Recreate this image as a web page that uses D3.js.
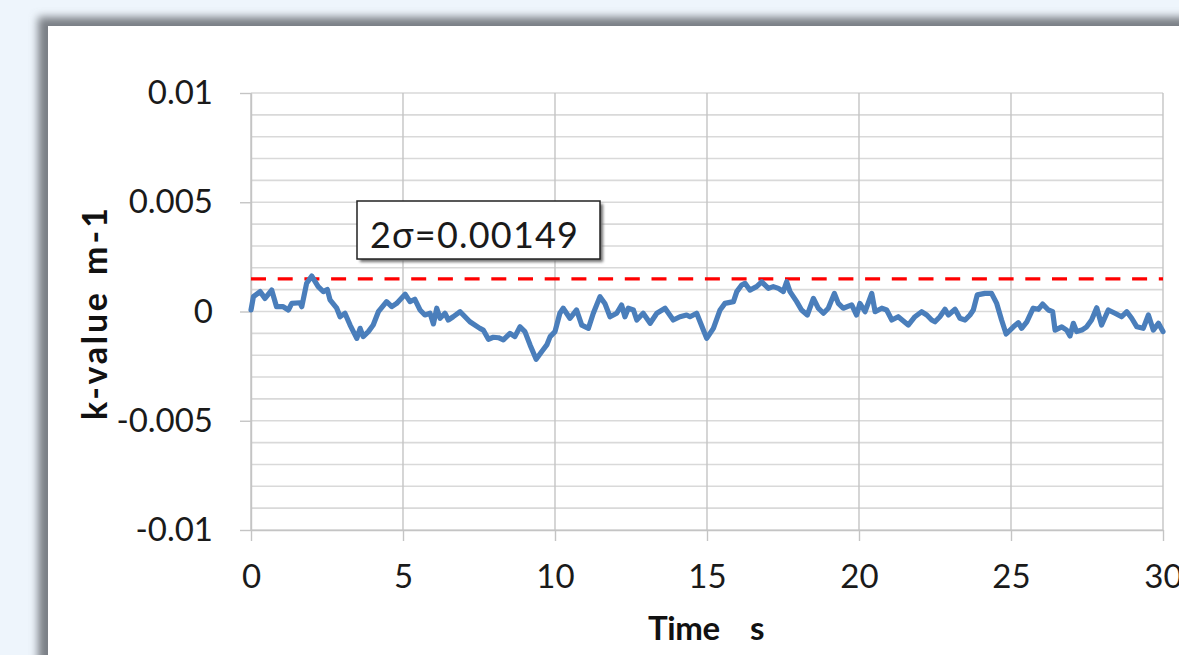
<!DOCTYPE html>
<html>
<head>
<meta charset="utf-8">
<script src="https://cdn.jsdelivr.net/npm/d3@7"></script>
<style>
  html, body { margin: 0; padding: 0; background: #eef5fc; overflow: hidden; }
  svg { display: block; }
  text { font-family: Lato, "Open Sans", "Liberation Sans", sans-serif; }
</style>
</head>
<body>
<svg id="chart" width="1179" height="655"></svg>
<script>
// Curvature signal over the 30 s record (time in s, k in 1/m)
const timeS = [
  0, 0.08, 0.30, 0.46, 0.68, 0.84, 1.06, 1.23, 1.34, 1.61,
  1.67, 1.83, 2.00, 2.21, 2.38, 2.51, 2.60, 2.82, 2.93, 3.09,
  3.26, 3.48, 3.59, 3.69, 3.86, 4.02, 4.19, 4.46, 4.63, 4.79,
  5.07, 5.23, 5.39, 5.56, 5.72, 5.89, 6.00, 6.11, 6.22, 6.38,
  6.49, 6.65, 6.88, 7.04, 7.20, 7.53,
  7.64, 7.81, 7.97, 8.14, 8.30, 8.52, 8.68, 8.85, 9.01, 9.18,
  9.38, 9.56, 9.73, 9.84, 10.00, 10.16, 10.27, 10.49, 10.71, 10.88,
  11.10, 11.26, 11.48, 11.64, 11.81, 12.03, 12.19, 12.30, 12.41, 12.58,
  12.69, 12.90, 13.13, 13.35, 13.62, 13.89, 14.11, 14.33, 14.44, 14.66,
  14.88, 14.99,
  15.21, 15.43, 15.59, 15.87, 15.98, 16.14, 16.25, 16.41, 16.63, 16.80,
  17.02, 17.18, 17.35, 17.51, 17.62, 17.73, 17.95, 18.11, 18.30, 18.50,
  18.66, 18.83, 18.99, 19.19, 19.32, 19.48, 19.76, 19.92, 20.03, 20.20,
  20.42, 20.53, 20.75, 20.91, 21.08, 21.29, 21.62, 21.84, 22.06, 22.23,
  22.39,
  22.50, 22.66, 22.83, 22.94, 23.16, 23.32, 23.49, 23.65, 23.76, 23.89,
  24.14, 24.36, 24.53, 24.69, 24.84, 25.08, 25.24, 25.35, 25.52, 25.73,
  25.90, 26.04, 26.23, 26.37, 26.45, 26.67, 26.83, 26.94, 27.05, 27.16,
  27.33, 27.49, 27.65, 27.82, 27.98, 28.20, 28.42, 28.64, 28.81, 28.97,
  29.14, 29.35, 29.52, 29.68, 29.85, 30.00
];

const kValue = [
  0.00007, 0.00068, 0.00091, 0.00060, 0.00098, 0.00022, 0.00022, 0.00007, 0.00037, 0.00040,
  0.00022, 0.00129, 0.00162, 0.00114, 0.00091, 0.00101, 0.00053, 0.00015, -0.00024, -0.00008,
  -0.00062, -0.00123, -0.00077, -0.00115, -0.00092, -0.00062, -0.00001, 0.00045, 0.00022, 0.00037,
  0.00079, 0.00045, 0.00056, 0.00007, -0.00016, -0.00008, -0.00057, 0.00015, -0.00031, -0.00008,
  -0.00039, -0.00024, -0.00001, -0.00024, -0.00047, -0.00077,
  -0.00085, -0.00127, -0.00118, -0.00120, -0.00130, -0.00100, -0.00115, -0.00070, -0.00092, -0.00153,
  -0.00219, -0.00184, -0.00153, -0.00115, -0.00092, -0.00008, 0.00015, -0.00031, 0.00007, -0.00062,
  -0.00077, -0.00008, 0.00068, 0.00037, -0.00024, -0.00008, 0.00030, -0.00024, 0.00015, 0.00007,
  -0.00039, -0.00008, -0.00054, -0.00008, 0.00015, -0.00039, -0.00024, -0.00016, -0.00024, -0.00008,
  -0.00085, -0.00123,
  -0.00077, 0.00007, 0.00037, 0.00045, 0.00091, 0.00121, 0.00129, 0.00098, 0.00114, 0.00136,
  0.00106, 0.00114, 0.00106, 0.00091, 0.00136, 0.00091, 0.00045, 0.00007, -0.00016, 0.00060,
  0.00015, -0.00008, 0.00015, 0.00083, 0.00037, 0.00015, 0.00030, -0.00016, 0.00037, -0.00001,
  0.00083, -0.00001, 0.00015, 0.00007, -0.00039, -0.00024, -0.00062, -0.00024, -0.00001, -0.00016,
  -0.00039,
  -0.00047, -0.00024, 0.00010, -0.00016, 0.00010, -0.00031, -0.00039, -0.00016, 0.00007, 0.00076,
  0.00083, 0.00083, 0.00037, -0.00039, -0.00103, -0.00070, -0.00051, -0.00077, -0.00047, 0.00015,
  0.00010, 0.00034, 0.00007, -0.00001, -0.00085, -0.00070, -0.00085, -0.00112, -0.00054, -0.00092,
  -0.00085, -0.00070, -0.00039, 0.00017, -0.00062, 0.00007, -0.00008, -0.00024, -0.00001, -0.00031,
  -0.00070, -0.00077, -0.00016, -0.00085, -0.00054, -0.00092
];

const xTicks = [0, 5, 10, 15, 20, 25, 30];
const yTicks = [0.01, 0.005, 0, -0.005, -0.01];
const yTickLabels = ["0.01", "0.005", "0", "-0.005", "-0.01"];
const yGridStep = 0.001;
const sigma2 = 0.00149;          // 2-sigma threshold
const xTitleParts = ["Time", "s"];
const yTitleParts = ["k-value", "m-1"];

const svg = d3.select("#chart");
const W = 1179, H = 655;

// ---- page background and card with a soft shadow on its top/left edge
const defs = svg.append("defs");
const cardBlur = defs.append("filter").attr("id", "cardShadow")
  .attr("x", "-10%").attr("y", "-10%").attr("width", "120%").attr("height", "120%");
cardBlur.append("feGaussianBlur").attr("stdDeviation", 4);

const boxShadow = defs.append("filter").attr("id", "boxShadow")
  .attr("x", "-20%").attr("y", "-30%").attr("width", "140%").attr("height", "160%");
boxShadow.append("feGaussianBlur").attr("stdDeviation", 1.5);

svg.append("rect").attr("width", W).attr("height", H).attr("fill", "#eef5fc");
svg.append("rect").attr("x", 38).attr("y", 17).attr("width", W + 40).attr("height", H + 40)
  .attr("fill", "#7a7f85").attr("filter", "url(#cardShadow)");
svg.append("rect").attr("x", 48).attr("y", 26).attr("width", W).attr("height", H)
  .attr("fill", "#ffffff");

// ---- scales
const x = d3.scaleLinear().domain([0, 30]).range([251, 1163]);
const y = d3.scaleLinear().domain([-0.01, 0.01]).range([530, 93]);

// ---- horizontal grid every 0.001
const hGrid = d3.range(y.domain()[0], y.domain()[1] + yGridStep / 2, yGridStep);
svg.append("g").selectAll("line").data(hGrid).join("line")
  .attr("x1", x(0)).attr("x2", x(30))
  .attr("y1", d => y(d)).attr("y2", d => y(d))
  .attr("stroke", "#d9d9d9").attr("stroke-width", 1.6);

// ---- vertical grid at each time tick
svg.append("g").selectAll("line").data(xTicks).join("line")
  .attr("x1", d => x(d)).attr("x2", d => x(d))
  .attr("y1", y(0.01)).attr("y2", y(-0.01))
  .attr("stroke", "#c4c4c4").attr("stroke-width", 1.4);

// ---- axes
const yAxis = d3.axisLeft(y).tickValues(yTicks)
  .tickFormat((d, i) => yTickLabels[i]).tickSize(11).tickSizeOuter(0).tickPadding(27);
const gy = svg.append("g").attr("transform", `translate(${x(0)},0)`).call(yAxis);

const xAxis = d3.axisBottom(x).tickValues(xTicks)
  .tickFormat(d => String(d)).tickSize(11).tickSizeOuter(0).tickPadding(24);
const gx = svg.append("g").attr("transform", `translate(0,${y(-0.01)})`).call(xAxis);

[gy, gx].forEach(g => {
  g.select(".domain").attr("stroke", "#c4c4c4").attr("stroke-width", 1.4);
  g.selectAll(".tick line").attr("stroke", "#c4c4c4").attr("stroke-width", 1.4);
  g.selectAll(".tick text")
    .attr("fill", "#1a1a1a")
    .style("font-family", "Lato, 'Open Sans', sans-serif")
    .style("font-size", "33px");
});

// ---- 2-sigma threshold line
svg.append("line")
  .attr("x1", x(0)).attr("x2", x(30))
  .attr("y1", y(sigma2)).attr("y2", y(sigma2))
  .attr("stroke", "#ff0000").attr("stroke-width", 3.2)
  .attr("stroke-dasharray", "15 11.7");

// ---- curvature trace
const series = timeS.map((t, i) => ({ t, k: kValue[i] }));
svg.append("path").datum(series)
  .attr("fill", "none")
  .attr("stroke", "#4a7ebb")
  .attr("stroke-width", 5.2)
  .attr("stroke-linejoin", "round")
  .attr("stroke-linecap", "round")
  .attr("d", d3.line().x(d => x(d.t)).y(d => y(d.k)));

// ---- annotation box
const box = { x: 357, y: 201, w: 243, h: 58 };
svg.append("rect")
  .attr("x", box.x + 3).attr("y", box.y + 3).attr("width", box.w).attr("height", box.h)
  .attr("fill", "#6f6f6f").attr("filter", "url(#boxShadow)");
svg.append("rect")
  .attr("x", box.x).attr("y", box.y).attr("width", box.w).attr("height", box.h)
  .attr("fill", "#ffffff").attr("stroke", "#222").attr("stroke-width", 1.5);
svg.append("text")
  .attr("x", box.x + 13).attr("y", box.y + 47)
  .attr("fill", "#1a1a1a")
  .attr("textLength", 208).attr("lengthAdjust", "spacing")
  .style("font-size", "36px")
  .text("2σ=" + sigma2);

// ---- axis titles (quantity and unit set apart)
const yTitle = svg.append("text")
  .attr("transform", "rotate(-90)")
  .attr("y", 107)
  .attr("fill", "#111")
  .style("font-size", "34px").style("font-weight", "bold");
yTitle.append("tspan").attr("x", -420).attr("textLength", 127).attr("lengthAdjust", "spacing")
  .text(yTitleParts[0]);
yTitle.append("tspan").attr("x", -275).attr("textLength", 67).attr("lengthAdjust", "spacing")
  .text(yTitleParts[1]);

const xTitle = svg.append("text")
  .attr("y", 640)
  .attr("fill", "#111")
  .style("font-size", "33px").style("font-weight", "bold");
xTitle.append("tspan").attr("x", 648).attr("textLength", 72).attr("lengthAdjust", "spacing")
  .text(xTitleParts[0]);
xTitle.append("tspan").attr("x", 750).text(xTitleParts[1]);
</script>
</body>
</html>
